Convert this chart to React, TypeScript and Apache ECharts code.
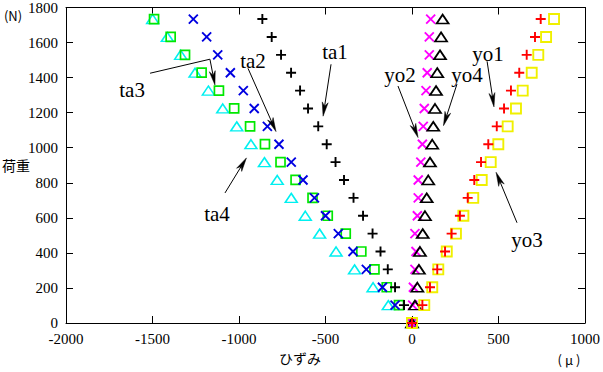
import React, { useEffect, useRef } from 'react';
import * as echarts from 'echarts';

// Loads (N) shared by every gauge
const loads = [0, 102, 204, 306, 408, 510, 612, 714, 816, 918, 1020, 1122, 1224, 1326, 1428, 1530, 1632, 1734];

// Strain (μ) per gauge, in the same order as loads
const ta1 = [0, -46, -98, -140, -182, -228, -283, -338, -393, -442, -493, -542, -601, -647, -699, -757, -811, -865];
const ta2 = [0, -98, -171, -264, -341, -426, -500, -564, -630, -698, -769, -836, -912, -975, -1050, -1123, -1187, -1264];
const ta3 = [0, -75, -146, -217, -293, -383, -487, -575, -673, -760, -850, -936, -1028, -1116, -1216, -1312, -1395, -1491];
const ta4 = [0, -137, -225, -332, -439, -534, -617, -698, -779, -853, -931, -1013, -1094, -1177, -1254, -1337, -1414, -1499];
const yo1 = [0, 60, 104, 146, 191, 229, 277, 322, 360, 399, 441, 490, 532, 572, 620, 663, 711, 744];
const yo2 = [0, 4, 8, 17, 23, 17, 31, 36, 36, 51, 60, 65, 71, 81, 88, 100, 100, 108];
const yo3 = [0, 71, 117, 152, 201, 254, 297, 354, 403, 455, 499, 553, 601, 640, 692, 730, 775, 821];
const yo4 = [0, 17, 31, 40, 46, 62, 75, 85, 94, 104, 117, 123, 133, 139, 146, 162, 168, 177];

// Axis ticks
const xTicks = { min: -2000, max: 1000, interval: 500 };
const yTicks = { min: 0, max: 1800, interval: 200 };

// Annotations: label, label position, arrow path (data coordinates)
const annotations = [
  { label: 'ta1', text: [-445, 1544], path: [[-468, 1476], [-514, 1180]] },
  { label: 'ta2', text: [-919, 1493], path: [[-948, 1453], [-786, 1092]] },
  { label: 'ta3', text: [-1618, 1329], path: [[-1514, 1425], [-1168, 1505], [-1139, 1358]] },
  { label: 'ta4', text: [-1127, 620], path: [[-1081, 742], [-957, 942]] },
  { label: 'yo1', text: [439, 1533], path: [[434, 1493], [474, 1233]] },
  { label: 'yo2', text: [-69, 1414], path: [[-81, 1352], [35, 1058]] },
  { label: 'yo3', text: [665, 471], path: [[607, 572], [486, 860]] },
  { label: 'yo4', text: [318, 1414], path: [[260, 1363], [182, 1126]] },
];

const PLUS = 'path://M0,5L10,5M5,0L5,10';
const CROSS = 'path://M0,0L10,10M10,0L0,10';

const zip = (xs: number[]) => xs.map((x, i) => [x, loads[i]]);

const mk = (name: string, data: number[], symbol: string, color: string, size: any, width = 1.6) => ({
  name,
  type: 'scatter',
  data: zip(data),
  symbol,
  symbolSize: size,
  itemStyle: { color: 'rgba(0,0,0,0)', borderColor: color, borderWidth: width, opacity: 1 },
  emphasis: { disabled: true },
  z: 3,
});

const SERIF = '"Liberation Serif", "Times New Roman", serif';
const tickFont = { fontFamily: SERIF, fontSize: 15, color: '#000', formatter: (v: number) => String(v) };

export default function App() {
  const ref = useRef<HTMLDivElement>(null);
  useEffect(() => {
    const chart = echarts.init(ref.current!, null, { renderer: 'svg' });
    const axisLine = { show: true, onZero: false, lineStyle: { color: '#000', width: 1 } };
    const tick = { show: true, inside: true, length: 7, lineStyle: { color: '#000' } };
    const option: any = {
      animation: false,
      backgroundColor: '#fff',
      textStyle: { fontFamily: SERIF },
      grid: { left: 66, right: 18, top: 5, bottom: 49, containLabel: false },
      xAxis: [
        {
          type: 'value', ...xTicks, position: 'bottom',
          axisLine, axisTick: tick,
          axisLabel: { ...tickFont, margin: 8 }, splitLine: { show: false },
        },
        {
          type: 'value', ...xTicks, position: 'top',
          axisLine, axisTick: tick,
          axisLabel: { show: false }, splitLine: { show: false },
        },
      ],
      yAxis: [
        {
          type: 'value', ...yTicks, position: 'left',
          axisLine, axisTick: tick,
          axisLabel: { ...tickFont, margin: 8 }, splitLine: { show: false },
        },
        {
          type: 'value', ...yTicks, position: 'right',
          axisLine, axisTick: tick,
          axisLabel: { show: false }, splitLine: { show: false },
        },
      ],
      series: [
        mk('ta4', ta4, 'triangle', '#00f0f0', [12, 9], 1.5),
        mk('ta3', ta3, 'rect', '#00e800', [9, 9], 1.7),
        mk('ta2', ta2, CROSS, '#0000e0', [9, 9], 1.9),
        mk('ta1', ta1, PLUS, '#000000', [10, 10], 1.9),
        mk('yo2', yo2, CROSS, '#ff00ff', [9, 9], 1.9),
        mk('yo4', yo4, 'triangle', '#000000', [12, 9], 1.7),
        mk('yo3', yo3, 'rect', '#f0f000', [10, 10], 1.9),
        mk('yo1', yo1, PLUS, '#ff0000', [10, 10], 1.9),
      ],
    };
    chart.setOption(option);

    const toPx = (p: number[]) => chart.convertToPixel({ seriesIndex: 0 }, p) as number[];
    const graphics: any[] = [];
    annotations.forEach((a) => {
      const pts = a.path.map(toPx);
      const t = pts[pts.length - 1];
      const s = pts[pts.length - 2];
      const dx = t[0] - s[0];
      const dy = t[1] - s[1];
      const len = Math.hypot(dx, dy) || 1;
      const ux = dx / len;
      const uy = dy / len;
      const L = 14;
      const W = 3;
      const bx = t[0] - ux * L;
      const by = t[1] - uy * L;
      const nx = -uy;
      const ny = ux;
      graphics.push({
        type: 'polyline', silent: true, z: 10,
        shape: { points: pts.slice(0, pts.length - 1).concat([[bx + ux * 4, by + uy * 4]]) },
        style: { stroke: '#000', lineWidth: 1, fill: null },
      });
      graphics.push({
        type: 'polygon', silent: true, z: 10,
        shape: { points: [t, [bx + nx * W, by + ny * W], [bx + ux * 4, by + uy * 4], [bx - nx * W, by - ny * W]] },
        style: { fill: '#000', stroke: '#000', lineWidth: 0.5 },
      });
      const tp = toPx(a.text);
      graphics.push({
        type: 'text', silent: true, z: 11, x: tp[0], y: tp[1],
        style: {
          text: a.label, font: '21px "Liberation Serif", serif', fill: '#000',
          align: 'center', verticalAlign: 'middle', textAlign: 'center', textVerticalAlign: 'middle',
        },
      });
    });
    const label = (text: string, x: number, y: number, size: number) => ({
      type: 'text', silent: true, x, y,
      style: {
        text, font: `${size}px "Noto Sans CJK JP", "Noto Sans", sans-serif`, fill: '#000',
        align: 'center', verticalAlign: 'middle', textAlign: 'center', textVerticalAlign: 'middle',
      },
    });
    graphics.push(label('(N)', 13, 15, 13));
    graphics.push(label('荷重', 16, 165, 14));
    graphics.push(label('ひずみ', 300, 358, 14));
    graphics.push(label('( μ )', 569, 359, 13));
    chart.setOption({ graphic: graphics });

    return () => chart.dispose();
  }, []);
  return (
    <div
      ref={ref}
      style={{ position: 'fixed', left: 0, top: 0, width: 603, height: 372, background: '#fff' }}
    />
  );
}
